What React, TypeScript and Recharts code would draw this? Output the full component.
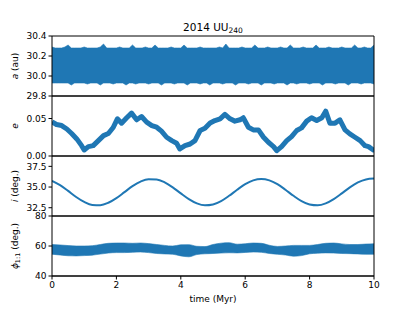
import React from "react";
import { ComposedChart, Line, Area, XAxis, YAxis, ReferenceLine } from "recharts";

const BLUE = "#1f77b4";
const FONT = "'DejaVu Sans', sans-serif";

// time grids (Myr)
const T101 = [
  0, 0.1, 0.2, 0.3, 0.4, 0.5, 0.6, 0.7, 0.8, 0.9,
  1, 1.1, 1.2, 1.3, 1.4, 1.5, 1.6, 1.7, 1.8, 1.9,
  2, 2.1, 2.2, 2.3, 2.4, 2.5, 2.6, 2.7, 2.8, 2.9,
  3, 3.1, 3.2, 3.3, 3.4, 3.5, 3.6, 3.7, 3.8, 3.9,
  4, 4.1, 4.2, 4.3, 4.4, 4.5, 4.6, 4.7, 4.8, 4.9,
  5, 5.1, 5.2, 5.3, 5.4, 5.5, 5.6, 5.7, 5.8, 5.9,
  6, 6.1, 6.2, 6.3, 6.4, 6.5, 6.6, 6.7, 6.8, 6.9,
  7, 7.1, 7.2, 7.3, 7.4, 7.5, 7.6, 7.7, 7.8, 7.9,
  8, 8.1, 8.2, 8.3, 8.4, 8.5, 8.6, 8.7, 8.8, 8.9,
  9, 9.1, 9.2, 9.3, 9.4, 9.5, 9.6, 9.7, 9.8, 9.9,
  10,
];
const T41 = [
  0, 0.25, 0.5, 0.75, 1, 1.25, 1.5, 1.75, 2, 2.25,
  2.5, 2.75, 3, 3.25, 3.5, 3.75, 4, 4.25, 4.5, 4.75,
  5, 5.25, 5.5, 5.75, 6, 6.25, 6.5, 6.75, 7, 7.25,
  7.5, 7.75, 8, 8.25, 8.5, 8.75, 9, 9.25, 9.5, 9.75,
  10,
];

// semi-major axis envelope (au)
const A_HIGH = [
  30.29, 30.28, 30.28, 30.28, 30.29, 30.31, 30.28, 30.28, 30.28, 30.28,
  30.29, 30.28, 30.28, 30.28, 30.28, 30.29, 30.32, 30.28, 30.28, 30.28,
  30.28, 30.29, 30.28, 30.28, 30.28, 30.31, 30.28, 30.28, 30.28, 30.29,
  30.28, 30.28, 30.31, 30.28, 30.28, 30.28, 30.28, 30.29, 30.28, 30.28,
  30.28, 30.31, 30.28, 30.28, 30.28, 30.28, 30.29, 30.28, 30.28, 30.28,
  30.28, 30.28, 30.29, 30.28, 30.32, 30.28, 30.28, 30.28, 30.28, 30.29,
  30.28, 30.28, 30.28, 30.31, 30.28, 30.28, 30.28, 30.29, 30.28, 30.28,
  30.28, 30.29, 30.28, 30.28, 30.31, 30.28, 30.28, 30.28, 30.29, 30.28,
  30.28, 30.28, 30.31, 30.28, 30.28, 30.28, 30.29, 30.28, 30.28, 30.28,
  30.29, 30.28, 30.28, 30.28, 30.31, 30.28, 30.28, 30.29, 30.28, 30.28,
  30.31,
];
const A_LOW = [
  29.93, 29.93, 29.93, 29.93, 29.93, 29.93, 29.91, 29.93, 29.93, 29.93,
  29.93, 29.92, 29.93, 29.93, 29.93, 29.91, 29.93, 29.93, 29.93, 29.92,
  29.93, 29.93, 29.93, 29.91, 29.93, 29.93, 29.92, 29.93, 29.93, 29.93,
  29.92, 29.93, 29.93, 29.93, 29.91, 29.93, 29.93, 29.93, 29.92, 29.93,
  29.93, 29.93, 29.91, 29.93, 29.93, 29.93, 29.92, 29.93, 29.93, 29.91,
  29.93, 29.93, 29.93, 29.92, 29.93, 29.93, 29.93, 29.91, 29.93, 29.93,
  29.93, 29.92, 29.93, 29.93, 29.93, 29.91, 29.93, 29.93, 29.93, 29.92,
  29.93, 29.93, 29.93, 29.91, 29.93, 29.93, 29.92, 29.93, 29.93, 29.93,
  29.92, 29.93, 29.93, 29.93, 29.91, 29.93, 29.93, 29.93, 29.92, 29.93,
  29.93, 29.93, 29.91, 29.93, 29.93, 29.93, 29.92, 29.93, 29.93, 29.93,
  29.92,
];

// eccentricity
const E_T = [
  0, 0.14, 0.3, 0.46, 0.61, 0.77, 0.92, 1.0, 1.13, 1.28,
  1.44, 1.6, 1.75, 1.9, 2.03, 2.16, 2.32, 2.47, 2.63, 2.78,
  2.94, 3.1, 3.25, 3.4, 3.56, 3.72, 3.87, 3.97, 4.13, 4.29,
  4.44, 4.6, 4.75, 4.91, 5.06, 5.22, 5.37, 5.53, 5.68, 5.84,
  5.94, 6.1, 6.25, 6.41, 6.57, 6.72, 6.88, 6.98, 7.13, 7.29,
  7.44, 7.6, 7.75, 7.91, 8.06, 8.22, 8.38, 8.5, 8.63, 8.79,
  8.94, 9.1, 9.25, 9.41, 9.57, 9.72, 9.83, 9.98, 10,
];
const E_V = [
  0.0456, 0.042, 0.0406, 0.036, 0.030, 0.0228, 0.0138, 0.008, 0.0125, 0.0138,
  0.0205, 0.0272, 0.030, 0.038, 0.0496, 0.0438, 0.051, 0.0572, 0.0483, 0.0527,
  0.0451, 0.0406, 0.0384, 0.0331, 0.025, 0.0205, 0.017, 0.0094, 0.0138, 0.016,
  0.0205, 0.034, 0.037, 0.044, 0.0473, 0.0496, 0.0554, 0.0496, 0.0465, 0.0483,
  0.051, 0.0384, 0.0348, 0.0348, 0.025, 0.0183, 0.0125, 0.0071, 0.0125, 0.0205,
  0.0259, 0.034, 0.0375, 0.0465, 0.051, 0.0473, 0.051, 0.0598, 0.0438, 0.0438,
  0.0483, 0.0348, 0.0295, 0.025, 0.0205, 0.0138, 0.0125, 0.008, 0.009,
];

// inclination (deg), on T41
const I_V = [
  35.74, 35.22, 34.53, 33.80, 33.20, 32.84, 32.81, 33.10, 33.66, 34.38,
  35.10, 35.66, 35.95, 35.92, 35.56, 34.96, 34.23, 33.54, 33.02, 32.79,
  32.89, 33.30, 33.94, 34.67, 35.34, 35.81, 35.98, 35.81, 35.34, 34.67,
  33.94, 33.30, 32.89, 32.79, 33.02, 33.54, 34.23, 34.96, 35.56, 35.92,
  36.02,
];

// resonant angle envelope (deg), on T41
const PHI_HIGH = [
  61.0, 60.7, 60.3, 60.0, 60.0, 60.2, 61.0, 61.8, 62.0, 62.0,
  61.8, 62.0, 61.6, 61.0, 60.4, 60.0, 60.8, 60.9, 59.8, 59.6,
  61.0, 61.9, 62.2, 61.2, 61.5, 62.0, 61.8, 60.5, 59.7, 60.0,
  60.4, 60.4, 60.4, 61.0, 61.8, 62.0, 61.4, 61.0, 61.0, 61.3,
  61.5,
];
const PHI_LOW = [
  54.5, 54.0, 53.5, 53.4, 53.6, 53.9, 54.6, 55.3, 55.6, 55.6,
  55.8, 56.0, 55.6, 55.0, 54.7, 54.5, 53.4, 52.8, 54.3, 54.8,
  55.0, 55.3, 55.5, 55.4, 55.7, 56.0, 55.8, 55.0, 54.5, 54.0,
  53.2, 53.6, 54.8, 55.2, 55.4, 55.3, 55.0, 54.9, 54.7, 54.5,
  54.5,
];

const X_TICKS = [0, 2, 4, 6, 8, 10];
const A_TICKS = [29.8, 30.0, 30.2, 30.4];
const E_TICKS = [0, 0.05];
const I_TICKS = [32.5, 35.0, 37.5];
const PHI_TICKS = [40, 60, 80];

const aData = T101.map((t, i) => ({ t, r: [A_LOW[i], A_HIGH[i]] }));
const eData = E_T.map((t, i) => ({ t, v: E_V[i] }));
const iData = T41.map((t, i) => ({ t, v: I_V[i] }));
const phiData = T41.map((t, i) => ({ t, r: [PHI_LOW[i], PHI_HIGH[i]] }));

const tickStyle = { fill: "#000", fontSize: 9, fontFamily: FONT };
const lineStyle = { stroke: "#000", strokeWidth: 1 };

function Panel(props: any) {
  const { top, height, bottom, data, domain, ticks, fmt, showX, children } = props;
  return (
    <div style={{ position: "absolute", left: 0, top }}>
      <ComposedChart
        width={415}
        height={height}
        data={data}
        margin={{ top: 6, right: 41, bottom, left: 0 }}
      >
        <XAxis
          dataKey="t"
          type="number"
          domain={[0, 10]}
          ticks={X_TICKS}
          allowDataOverflow
          height={showX ? height - 6 - 60 : 0}
          tick={showX ? tickStyle : false}
          tickLine={showX ? lineStyle : false}
          axisLine={lineStyle}
          tickSize={3.5}
          tickMargin={2}
        />
        <YAxis
          type="number"
          domain={domain}
          ticks={ticks}
          allowDataOverflow
          interval={0}
          width={52}
          tick={tickStyle}
          tickLine={lineStyle}
          axisLine={lineStyle}
          tickSize={3.5}
          tickMargin={2}
          tickFormatter={fmt}
        />
        {children}
        <ReferenceLine y={domain[1]} stroke="#000" strokeWidth={1} />
        <ReferenceLine y={domain[0]} stroke="#000" strokeWidth={1} />
        <ReferenceLine x={10} stroke="#000" strokeWidth={1} />
      </ComposedChart>
    </div>
  );
}

export default function App() {
  return (
    <div
      style={{
        position: "absolute",
        left: 0,
        top: 0,
        width: 415,
        height: 311,
        background: "#fff",
        fontFamily: FONT,
      }}
    >
      <Panel
        top={30}
        height={72}
        bottom={6}
        data={aData}
        domain={[29.8, 30.4]}
        ticks={A_TICKS}
        fmt={(v: number) => v.toFixed(1)}
      >
        <Area
          dataKey="r"
          type="linear"
          fill={BLUE}
          fillOpacity={1}
          stroke={BLUE}
          strokeWidth={0.6}
          isAnimationActive={false}
        />
      </Panel>
      <Panel
        top={90}
        height={72}
        bottom={6}
        data={eData}
        domain={[0, 0.08]}
        ticks={E_TICKS}
        fmt={(v: number) => v.toFixed(2)}
      >
        <Line
          dataKey="v"
          type="linear"
          stroke={BLUE}
          strokeWidth={5}
          strokeLinejoin="round"
          dot={false}
          isAnimationActive={false}
        />
      </Panel>
      <Panel
        top={150}
        height={72}
        bottom={6}
        data={iData}
        domain={[31.5, 38.75]}
        ticks={I_TICKS}
        fmt={(v: number) => v.toFixed(1)}
      >
        <Line
          dataKey="v"
          type="monotone"
          stroke={BLUE}
          strokeWidth={2}
          dot={false}
          isAnimationActive={false}
        />
      </Panel>
      <Panel
        top={210}
        height={101}
        bottom={0}
        showX
        data={phiData}
        domain={[40, 80]}
        ticks={PHI_TICKS}
        fmt={(v: number) => String(v)}
      >
        <Area
          dataKey="r"
          type="monotone"
          fill={BLUE}
          fillOpacity={1}
          stroke={BLUE}
          strokeWidth={0.6}
          isAnimationActive={false}
        />
      </Panel>
      <svg
        width={415}
        height={311}
        style={{ position: "absolute", left: 0, top: 0, pointerEvents: "none" }}
      >
        <text x={213} y={31} textAnchor="middle" fontSize={10.5} fontFamily={FONT} fill="#000">
          2014 UU
          <tspan fontSize={7.5} dy={2}>240</tspan>
        </text>
        <text
          transform="translate(18,66) rotate(-90)"
          textAnchor="middle"
          fontSize={9}
          fontFamily={FONT}
          fill="#000"
        >
          <tspan fontStyle="italic">a</tspan> (au)
        </text>
        <text
          transform="translate(18,126) rotate(-90)"
          textAnchor="middle"
          fontSize={9}
          fontFamily={FONT}
          fill="#000"
          fontStyle="italic"
        >
          e
        </text>
        <text
          transform="translate(18,186) rotate(-90)"
          textAnchor="middle"
          fontSize={9}
          fontFamily={FONT}
          fill="#000"
        >
          <tspan fontStyle="italic">i</tspan> (deg.)
        </text>
        <text
          transform="translate(18,246) rotate(-90)"
          textAnchor="middle"
          fontSize={9}
          fontFamily={FONT}
          fill="#000"
        >
          <tspan fontStyle="italic">ϕ</tspan>
          <tspan fontSize={6.5} dy={2}>1:1</tspan>
          <tspan dy={-2}> (deg.)</tspan>
        </text>
        <text x={213} y={302} textAnchor="middle" fontSize={9} fontFamily={FONT} fill="#000">
          time (Myr)
        </text>
      </svg>
    </div>
  );
}
